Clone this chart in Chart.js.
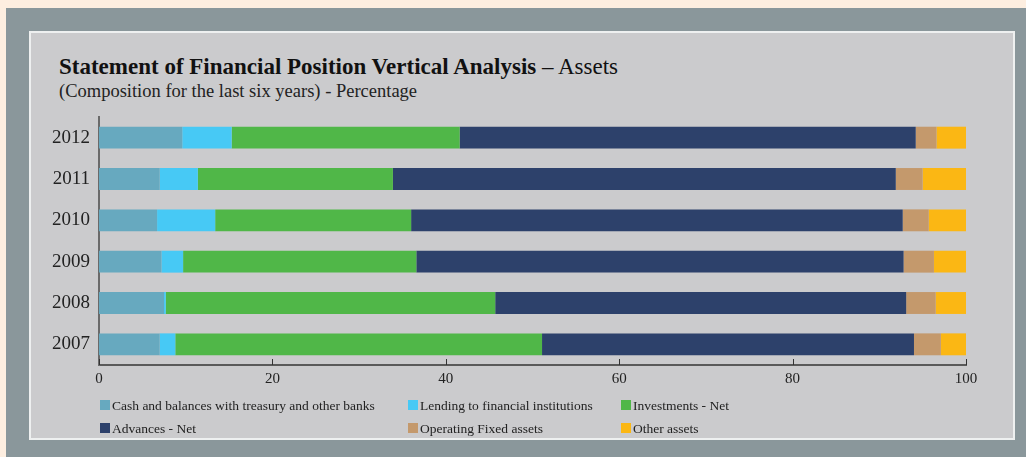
<!DOCTYPE html>
<html>
<head>
<meta charset="utf-8">
<script src="https://cdn.jsdelivr.net/npm/chart.js@4/dist/chart.umd.min.js"></script>
<style>
  html, body { margin: 0; padding: 0; }
  body { width: 1026px; height: 457px; background: #fdeee0; position: relative; overflow: hidden; font-family: "Liberation Serif", serif; }
  .frame { position: absolute; left: 6px; top: 8px; right: 0; bottom: 0; background: #8a979b; }
  .panel { position: absolute; left: 29px; top: 31px; width: 986px; height: 409px; box-sizing: border-box; border: 2px solid #eef0f0; background: #cbcbcd; }
  .title { position: absolute; left: 59px; top: 54px; font-size: 23px; color: #111; white-space: nowrap; }
  .title b { font-weight: bold; }
  .sub { position: absolute; left: 59px; top: 81px; font-size: 18.5px; color: #222; white-space: nowrap; }
  canvas { position: absolute; left: 0; top: 0; }
</style>
</head>
<body>
<div class="frame"></div>
<div class="panel"></div>
<div class="title"><b>Statement of Financial Position Vertical Analysis</b> – Assets</div>
<div class="sub">(Composition for the last six years) - Percentage</div>
<canvas id="chart" width="1026" height="457"></canvas>
<script>
const years = ['2012', '2011', '2010', '2009', '2008', '2007'];
const xTicks = [0, 20, 40, 60, 80, 100];

const cash = [9.6, 7.0, 6.7, 7.2, 7.5, 7.0];
const lending = [5.7, 4.4, 6.7, 2.5, 0.2, 1.8];
const investments = [26.3, 22.5, 22.6, 26.9, 38.0, 42.3];
const advances = [52.6, 58.0, 56.7, 56.2, 47.4, 42.9];
const fixedAssets = [2.4, 3.1, 3.0, 3.5, 3.4, 3.1];
const otherAssets = [3.4, 5.0, 4.3, 3.7, 3.5, 2.9];

const seriesNames = [
  'Cash and balances with treasury and other banks',
  'Lending to financial institutions',
  'Investments - Net',
  'Advances - Net',
  'Operating Fixed assets',
  'Other assets'
];
const seriesColors = ['#67a9bf', '#47c9f5', '#50b748', '#2d416b', '#c4996c', '#fbb714'];
const seriesValues = [cash, lending, investments, advances, fixedAssets, otherAssets];

const FONT = '"Liberation Serif", serif';

// small upward tick marks on the x axis
const innerTicks = {
  id: 'innerTicks',
  afterDatasetsDraw(chart) {
    const ctx = chart.ctx;
    const x = chart.scales.x;
    const bottom = chart.chartArea.bottom;
    ctx.save();
    ctx.strokeStyle = '#333';
    ctx.lineWidth = 1;
    xTicks.forEach(v => {
      const px = Math.round(x.getPixelForValue(v)) + 0.5;
      ctx.beginPath();
      ctx.moveTo(px, bottom);
      ctx.lineTo(px, bottom - 6);
      ctx.stroke();
    });
    ctx.restore();
  }
};

// legend in three fixed columns under the axis
const columnLegend = {
  id: 'columnLegend',
  afterDraw(chart) {
    const ctx = chart.ctx;
    const cols = [100, 408, 621];
    const rows = [405, 428];
    ctx.save();
    ctx.font = '13.5px ' + FONT;
    ctx.textBaseline = 'middle';
    chart.data.datasets.forEach((ds, i) => {
      const cx = cols[i % 3];
      const cy = rows[Math.floor(i / 3)];
      ctx.fillStyle = ds.backgroundColor;
      ctx.fillRect(cx, cy - 5, 10, 10);
      ctx.fillStyle = '#222';
      ctx.fillText(ds.label, cx + 12, cy + 1);
    });
    ctx.restore();
  }
};

new Chart(document.getElementById('chart'), {
  type: 'bar',
  data: {
    labels: years,
    datasets: seriesNames.map((name, i) => ({
      label: name,
      data: seriesValues[i],
      backgroundColor: seriesColors[i],
      borderWidth: 0,
      categoryPercentage: 1,
      barPercentage: 0.53
    }))
  },
  options: {
    indexAxis: 'y',
    responsive: false,
    animation: false,
    layout: { padding: { top: 117, right: 60, left: 0, bottom: 0 } },
    plugins: {
      legend: { display: false },
      tooltip: { enabled: false }
    },
    scales: {
      x: {
        stacked: true,
        min: 0,
        max: 100,
        afterFit: s => { s.height = 92; },
        afterBuildTicks: s => { s.ticks = xTicks.map(v => ({ value: v })); },
        grid: { display: false, drawTicks: false },
        border: { display: true, color: '#5a5a5a', width: 2 },
        ticks: { padding: 5, color: '#222', font: { family: FONT, size: 15 } }
      },
      y: {
        stacked: true,
        afterFit: s => { s.width = 99; },
        grid: { display: false, drawTicks: false },
        border: { display: true, color: '#6a6a6a', width: 2 },
        ticks: { padding: 9, color: '#222', font: { family: FONT, size: 19 } }
      }
    }
  },
  plugins: [innerTicks, columnLegend]
});
</script>
</body>
</html>
